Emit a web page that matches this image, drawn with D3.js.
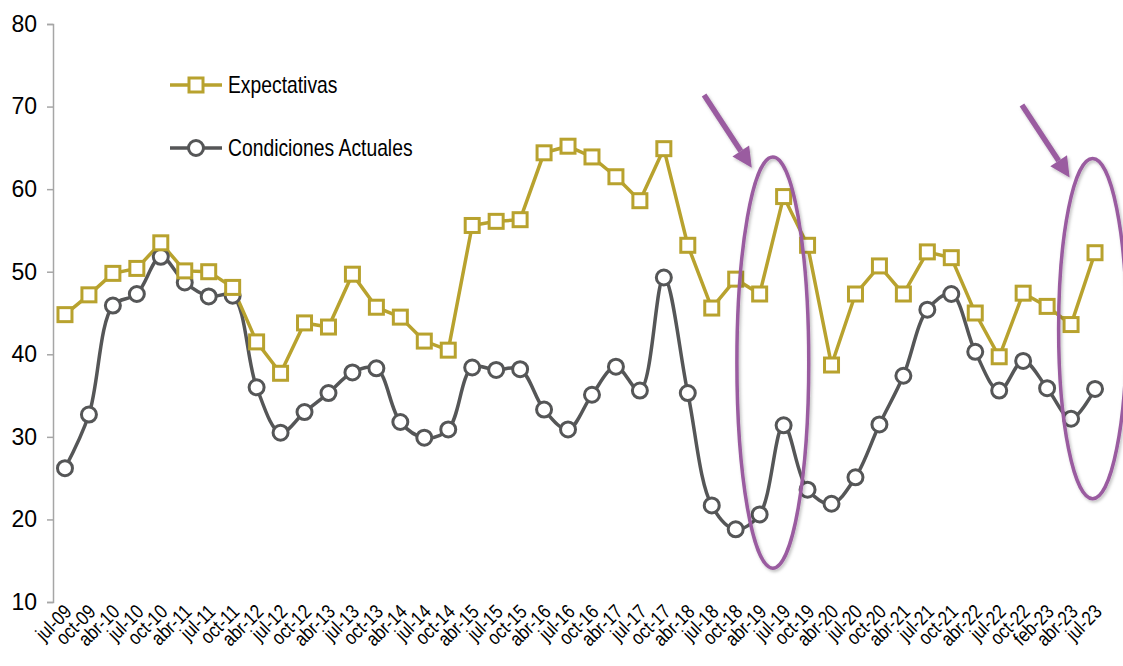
<!DOCTYPE html>
<html>
<head>
<meta charset="utf-8">
<script src="https://cdn.jsdelivr.net/npm/d3@7"></script>
<style>
  body { margin: 0; background: #fff; }
  text { font-family: "Liberation Sans", Arial, sans-serif; fill: #000; }
</style>
</head>
<body>
<div id="chart"></div>
<script>
// categories (quarters)
const periods = ["jul-09","oct-09","abr-10","jul-10","oct-10","abr-11","jul-11","oct-11",
  "abr-12","jul-12","oct-12","abr-13","jul-13","oct-13","abr-14","jul-14","oct-14",
  "abr-15","jul-15","oct-15","abr-16","jul-16","oct-16","abr-17","jul-17","oct-17",
  "abr-18","jul-18","oct-18","abr-19","jul-19","oct-19","abr-20","jul-20","oct-20",
  "abr-21","jul-21","oct-21","abr-22","jul-22","oct-22","feb-23","abr-23","jul-23"];

const expectativas = [44.8,47.2,49.8,50.4,53.5,50.1,50.0,48.1,
  41.5,37.7,43.8,43.3,49.7,45.7,44.5,41.6,40.5,
  55.6,56.1,56.3,64.4,65.2,63.9,61.5,58.6,64.9,
  53.2,45.6,49.1,47.3,59.1,53.2,38.7,47.3,50.7,
  47.3,52.4,51.7,45.0,39.7,47.4,45.8,43.6,52.3];

const condiciones = [26.2,32.7,45.9,47.3,51.8,48.7,47.0,47.1,
  36.0,30.5,33.0,35.3,37.8,38.3,31.8,29.9,30.9,
  38.4,38.1,38.2,33.3,30.9,35.1,38.5,35.6,49.3,
  35.3,21.7,18.8,20.6,31.4,23.6,21.9,25.1,31.5,
  37.4,45.4,47.3,40.3,35.6,39.2,35.9,32.2,35.8];

const yTicks = [10,20,30,40,50,60,70,80];

// annotations, in data units (category index, value)
const ellipses = [
  { cx: 29.55, cy: 39.0, rx: 1.5, top: 63.9 },
  { cx: 42.9, cy: 43.1, rx: 1.42, top: 63.7 }
];
const arrows = [
  { x1: 26.68, y1: 71.4, x2: 28.67, y2: 62.6 },
  { x1: 39.95, y1: 70.2, x2: 41.94, y2: 61.4 }
];

const width = 1123, height = 666;
const gold = "#B8A22E", grey = "#555657", purple = "#9A5CA0";
const narrow = 0.84; // horizontal squeeze to mimic a narrow typeface

const svg = d3.select("#chart").append("svg")
  .attr("width", width).attr("height", height);

const defs = svg.append("defs");
const shadow = defs.append("filter").attr("id", "shadow")
  .attr("x", "-50%").attr("y", "-20%").attr("width", "200%").attr("height", "140%");
shadow.append("feDropShadow").attr("dx", 1.5).attr("dy", 2).attr("stdDeviation", 1.5)
  .attr("flood-color", "#000").attr("flood-opacity", 0.25);

const x = d3.scaleBand().domain(periods).range([53, 1107]).paddingInner(0).paddingOuter(0);
const xc = (d) => x(d) + x.bandwidth() / 2;
const xi = d3.scaleLinear().domain([0, periods.length - 1]).range([xc(periods[0]), xc(periods[periods.length - 1])]);
const y = d3.scaleLinear().domain([10, 80]).range([602, 24]);

// y axis
const yAxis = svg.append("g").attr("transform", "translate(53,0)")
  .call(d3.axisLeft(y).tickValues(yTicks).tickSize(6).tickPadding(10));
yAxis.select(".domain").attr("stroke", "#A6A6A6").attr("stroke-width", 1.5);
yAxis.selectAll(".tick line").attr("stroke", "#A6A6A6").attr("stroke-width", 1.5);
yAxis.selectAll(".tick text").attr("font-size", 23)
  .style("font-family", '"Liberation Sans", Arial, sans-serif')
  .attr("fill", "#000");

// x labels
svg.append("g").selectAll("text")
  .data(periods).join("text")
  .attr("transform", (d) => `translate(${xc(d) + 8},${613}) rotate(-45) scale(${narrow},1)`)
  .attr("text-anchor", "end")
  .attr("font-size", 20)
  .text((d) => d);

// lines
const idx = d3.range(periods.length);
const lineStraight = d3.line().x((i) => xi(i)).y((i) => y(expectativas[i]));
const lineSmooth = d3.line().x((i) => xi(i)).y((i) => y(condiciones[i]))
  .curve(d3.curveCatmullRom.alpha(0.5));

svg.append("path").datum(idx).attr("d", lineSmooth)
  .attr("fill", "none").attr("stroke", grey).attr("stroke-width", 3.5);
svg.append("path").datum(idx).attr("d", lineStraight)
  .attr("fill", "none").attr("stroke", gold).attr("stroke-width", 3.5);

svg.append("g").selectAll("circle").data(idx).join("circle")
  .attr("cx", (i) => xi(i)).attr("cy", (i) => y(condiciones[i])).attr("r", 7.5)
  .attr("fill", "#fff").attr("stroke", grey).attr("stroke-width", 3);

const sq = 14;
svg.append("g").selectAll("rect").data(idx).join("rect")
  .attr("x", (i) => xi(i) - sq / 2).attr("y", (i) => y(expectativas[i]) - sq / 2)
  .attr("width", sq).attr("height", sq)
  .attr("fill", "#fff").attr("stroke", gold).attr("stroke-width", 3);

// legend
const legend = svg.append("g").attr("transform", "translate(170,0)");
const items = [
  { name: "Expectativas", color: gold, shape: "square", yy: 85 },
  { name: "Condiciones Actuales", color: grey, shape: "circle", yy: 148 }
];
items.forEach((it) => {
  const g = legend.append("g").attr("transform", `translate(0,${it.yy})`);
  g.append("line").attr("x1", 0).attr("x2", 52).attr("stroke", it.color).attr("stroke-width", 3.5);
  if (it.shape === "square") {
    g.append("rect").attr("x", 26 - sq / 2).attr("y", -sq / 2).attr("width", sq).attr("height", sq)
      .attr("fill", "#fff").attr("stroke", it.color).attr("stroke-width", 3);
  } else {
    g.append("circle").attr("cx", 26).attr("r", 7.5)
      .attr("fill", "#fff").attr("stroke", it.color).attr("stroke-width", 3);
  }
  g.append("text").attr("transform", `translate(58,0) scale(${narrow},1)`)
    .attr("dy", "0.36em").attr("font-size", 23).text(it.name);
});

// annotations
const pxPerIdx = xi(1) - xi(0);
svg.append("g").selectAll("ellipse").data(ellipses).join("ellipse")
  .attr("cx", (d) => xi(d.cx)).attr("cy", (d) => y(d.cy))
  .attr("rx", (d) => d.rx * pxPerIdx).attr("ry", (d) => y(d.cy) - y(d.top))
  .attr("fill", "none").attr("stroke", purple).attr("stroke-width", 3.5)
  .attr("filter", "url(#shadow)");

arrows.forEach((a) => {
  const x1 = xi(a.x1), y1 = y(a.y1), x2 = xi(a.x2), y2 = y(a.y2);
  const ang = Math.atan2(y2 - y1, x2 - x1);
  const headLen = 20, headW = 10;
  const bx = x2 - headLen * Math.cos(ang), by = y2 - headLen * Math.sin(ang);
  const g = svg.append("g").attr("filter", "url(#shadow)");
  g.append("line").attr("x1", x1).attr("y1", y1).attr("x2", bx).attr("y2", by)
    .attr("stroke", purple).attr("stroke-width", 5.5);
  const px = -Math.sin(ang), py = Math.cos(ang);
  g.append("path")
    .attr("d", `M${x2},${y2}L${bx + px * headW},${by + py * headW}L${bx - px * headW},${by - py * headW}Z`)
    .attr("fill", purple);
});
</script>
</body>
</html>
